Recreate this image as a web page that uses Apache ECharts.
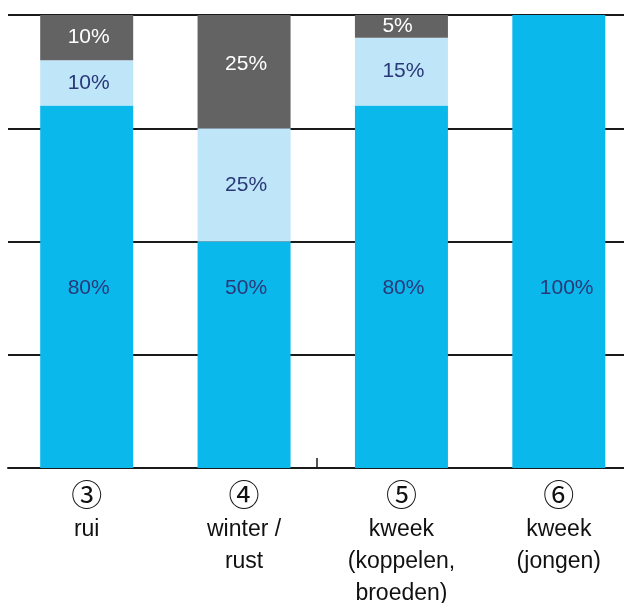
<!DOCTYPE html>
<html>
<head>
<meta charset="utf-8">
<script src="https://cdn.jsdelivr.net/npm/echarts@6/dist/echarts.min.js"></script>
<style>html,body{margin:0;padding:0;background:#fff}#c{width:624px;height:603px}</style>
</head>
<body>
<div id="c"></div>
<script>
var nums = ['③', '④', '⑤', '⑥'];
var names = [['rui'], ['winter /', 'rust'], ['kweek', '(koppelen,', 'broeden)'], ['kweek', '(jongen)']];
var blueVals = [80, 50, 80, 100];
var lightVals = [10, 25, 15, 0];
var greyVals = [10, 25, 5, 0];
var yTicks = [0, 25, 50, 75, 100];

var FONT = '"Liberation Sans", Arial, Helvetica, sans-serif';
var categories = nums.map(function (n, i) {
  return '{c|' + n + '}\n' + names[i].map(function (s) { return '{t|' + s + '}'; }).join('\n');
});

function lbl(color, extra) {
  var o = {
    show: true,
    color: color,
    fontFamily: FONT,
    fontSize: 21,
    align: 'left',
    offset: [-19, 0],
    formatter: function (p) { return p.value ? p.value + '%' : ''; }
  };
  for (var k in extra) o[k] = extra[k];
  return o;
}

var chart = echarts.init(document.getElementById('c'));
chart.setOption({
  animation: false,
  grid: { left: 8, top: 15, right: -13.5, bottom: 135, containLabel: false, outerBoundsMode: 'none' },
  xAxis: [{
    type: 'category',
    data: categories,
    axisLine: { show: true, lineStyle: { color: '#1a1a1a', width: 2 } },
    axisTick: { show: false },
    axisLabel: {
      margin: 6,
      color: '#111',
      fontFamily: FONT,
      interval: 0,
      rich: {
        c: { fontSize: 31, lineHeight: 40, color: '#111', fontFamily: '"Noto Sans CJK JP", "DejaVu Sans", sans-serif' },
        t: { fontSize: 23, lineHeight: 32, color: '#111', fontFamily: FONT }
      }
    }
  }, {
    type: 'value',
    position: 'bottom',
    min: 0, max: 4,
    axisLine: { show: false },
    axisLabel: { show: false },
    splitLine: { show: false },
    axisTick: { show: true, inside: true, length: 10, customValues: [1.96], lineStyle: { color: '#1a1a1a', width: 1.5 } }
  }],
  yAxis: {
    type: 'value',
    min: yTicks[0],
    max: yTicks[yTicks.length - 1],
    interval: 25,
    axisLabel: { show: false },
    axisLine: { show: false },
    axisTick: { show: false },
    splitLine: { show: true, lineStyle: { color: '#1a1a1a', width: 2 } }
  },
  series: [
    {
      type: 'bar', stack: 's', barWidth: 93,
      data: blueVals,
      itemStyle: { color: '#0bb8ec' },
      label: lbl('#2a3878', { position: 'insideBottom', distance: 169 })
    },
    {
      type: 'bar', stack: 's', barWidth: 93,
      data: lightVals,
      itemStyle: { color: '#bfe5f9' },
      label: lbl('#2a3878', { position: 'inside' })
    },
    {
      type: 'bar', stack: 's', barWidth: 93,
      data: greyVals.map(function (v, i) {
        return i === 1 ? { value: v, label: { offset: [-19, -7] } } : v;
      }),
      itemStyle: { color: '#636363' },
      label: lbl('#ffffff', { position: 'inside' })
    }
  ]
});
</script>
</body>
</html>
